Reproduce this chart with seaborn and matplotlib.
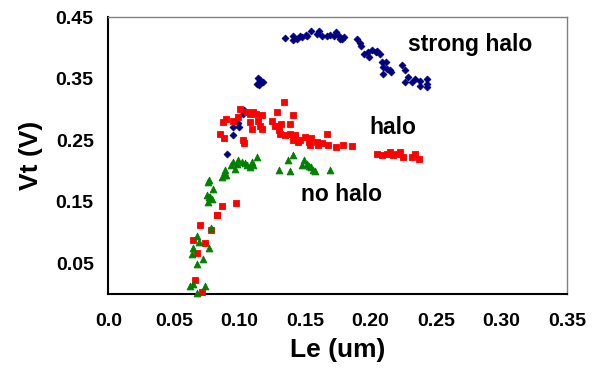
import matplotlib
matplotlib.use("Agg")
import matplotlib.pyplot as plt
import seaborn as sns
import pandas as pd

# ---- data ----
strong_x = [0.135, 0.141, 0.141, 0.144, 0.146, 0.148, 0.151, 0.152, 0.155, 0.159, 0.161, 0.163,
            0.167, 0.169, 0.172, 0.174, 0.176, 0.178, 0.180, 0.177, 0.190, 0.192, 0.193, 0.195,
            0.198, 0.199, 0.201, 0.204, 0.207, 0.209, 0.212, 0.210, 0.2125, 0.216, 0.2095,
            0.205, 0.215, 0.224, 0.2265, 0.229, 0.2265, 0.2316, 0.234, 0.238, 0.238, 0.243,
            0.243, 0.243, 0.114, 0.116, 0.118, 0.115, 0.1137, 0.1036, 0.1026, 0.0992, 0.095,
            0.100, 0.0954, 0.0908]
strong_y = [0.417, 0.419, 0.413, 0.415, 0.420, 0.418, 0.422, 0.419, 0.427, 0.423, 0.427, 0.420,
            0.419, 0.422, 0.419, 0.426, 0.420, 0.415, 0.418, 0.415, 0.415, 0.408, 0.403, 0.391,
            0.393, 0.385, 0.397, 0.393, 0.391, 0.377, 0.377, 0.369, 0.366, 0.361, 0.358,
            0.396, 0.364, 0.372, 0.364, 0.353, 0.345, 0.345, 0.350, 0.347, 0.339, 0.350,
            0.342, 0.337, 0.352, 0.348, 0.345, 0.340, 0.342, 0.300, 0.293, 0.278, 0.271,
            0.271, 0.258, 0.228]

halo_x = [0.1005, 0.134, 0.1285, 0.1056, 0.108, 0.1107, 0.113, 0.117, 0.0992, 0.0954, 0.090,
          0.0878, 0.108, 0.1145, 0.116, 0.117, 0.1095, 0.1247, 0.127, 0.130, 0.132, 0.1387,
          0.141, 0.131, 0.135, 0.1387, 0.1425, 0.146, 0.150, 0.153, 0.155, 0.159, 0.163,
          0.1667, 0.168, 0.174, 0.179, 0.186, 0.141, 0.145, 0.154, 0.160, 0.085, 0.088,
          0.1026, 0.1036, 0.0975, 0.0866, 0.0832,
          0.205, 0.209, 0.2125, 0.215, 0.2176, 0.220, 0.2227, 0.225, 0.2316, 0.234, 0.2374,
          0.0832, 0.070, 0.0784, 0.0644, 0.074, 0.0675, 0.066, 0.0715]
halo_y = [0.301, 0.312, 0.296, 0.296, 0.293, 0.296, 0.293, 0.291, 0.288, 0.282, 0.285,
          0.280, 0.280, 0.282, 0.274, 0.269, 0.269, 0.282, 0.274, 0.266, 0.277, 0.277,
          0.291, 0.261, 0.258, 0.261, 0.258, 0.250, 0.255, 0.247, 0.253, 0.247, 0.245,
          0.261, 0.242, 0.239, 0.242, 0.240, 0.250, 0.247, 0.242, 0.242, 0.261, 0.253,
          0.250, 0.245, 0.148, 0.143, 0.128,
          0.228, 0.226, 0.228, 0.231, 0.226, 0.228, 0.231, 0.223, 0.223, 0.228, 0.220,
          0.129, 0.112, 0.104, 0.088, 0.083, 0.066, 0.023, 0.003]

nohalo_x = [0.0763, 0.0769, 0.0797, 0.0751, 0.0776, 0.0763, 0.0784, 0.068, 0.069, 0.065, 0.077,
            0.0637, 0.072, 0.0677, 0.065, 0.062, 0.074, 0.0675,
            0.1137, 0.0992, 0.0954, 0.098, 0.102, 0.1044, 0.1056, 0.1095, 0.1107, 0.108,
            0.094, 0.0967, 0.089, 0.088, 0.090, 0.0866, 0.079, 0.077,
            0.141, 0.137, 0.149, 0.1476, 0.1514, 0.153, 0.155, 0.1565, 0.158, 0.130, 0.139,
            0.169]
nohalo_y = [0.182, 0.185, 0.170, 0.161, 0.158, 0.150, 0.107, 0.094, 0.084, 0.075, 0.074,
            0.065, 0.057, 0.049, 0.017, 0.013, 0.013, 0.002,
            0.223, 0.218, 0.215, 0.212, 0.215, 0.213, 0.209, 0.215, 0.209, 0.206,
            0.209, 0.204, 0.201, 0.193, 0.193, 0.190, 0.155, 0.158,
            0.226, 0.218, 0.218, 0.209, 0.212, 0.208, 0.206, 0.202, 0.200, 0.202, 0.200,
            0.202]

series_names = ["strong halo", "halo", "no halo"]
x_ticks = [0.0, 0.05, 0.10, 0.15, 0.20, 0.25, 0.30, 0.35]
x_tick_labels = ["0.0", "0.05", "0.10", "0.15", "0.20", "0.25", "0.30", "0.35"]
y_ticks = [0.0, 0.05, 0.10, 0.15, 0.20, 0.25, 0.30, 0.35, 0.40, 0.45]
y_tick_labels = ["", "0.05", "", "0.15", "", "0.25", "", "0.35", "", "0.45"]

df = pd.concat([
    pd.DataFrame({"Le": strong_x, "Vt": strong_y, "series": series_names[0]}),
    pd.DataFrame({"Le": halo_x, "Vt": halo_y, "series": series_names[1]}),
    pd.DataFrame({"Le": nohalo_x, "Vt": nohalo_y, "series": series_names[2]}),
], ignore_index=True)

sns.set_style("white")
plt.rcParams["font.family"] = ["Liberation Sans", "DejaVu Sans"]
plt.rcParams["text.color"] = "black"
plt.rcParams["axes.labelcolor"] = "black"
plt.rcParams["xtick.color"] = "black"
plt.rcParams["ytick.color"] = "black"

fig = plt.figure(figsize=(5.94, 3.69), dpi=100)
ax = fig.add_axes([0.1823, 0.2033, 0.7722, 0.7498])

palette = {"strong halo": "#000080", "halo": "#FF0000", "no halo": "#008000"}
markers = {"strong halo": "D", "halo": "s", "no halo": "^"}
sizes = {"strong halo": 12, "halo": 20, "no halo": 24}
for name in series_names:
    sub = df[df["series"] == name]
    sns.scatterplot(data=sub, x="Le", y="Vt", color=palette[name], marker=markers[name],
                    s=sizes[name], edgecolor=palette[name], linewidth=0.6, ax=ax,
                    legend=False, clip_on=False, zorder=3)

ax.set_xlim(0, 0.35)
ax.set_ylim(0, 0.45)
ax.set_xticks(x_ticks)
ax.set_xticklabels(x_tick_labels)
ax.set_yticks(y_ticks)
ax.set_yticklabels(y_tick_labels)
for lab in ax.get_xticklabels() + ax.get_yticklabels():
    lab.set_fontweight("bold")
    lab.set_fontsize(14)
ax.tick_params(axis="both", direction="inout", length=5, width=1, color="black")
ax.tick_params(axis="x", pad=11)
ax.tick_params(axis="y", pad=8)

for side in ["left", "bottom"]:
    ax.spines[side].set_color("black")
    ax.spines[side].set_linewidth(1.5)
for side in ["top", "right"]:
    ax.spines[side].set_visible(True)
    ax.spines[side].set_color("#808080")
    ax.spines[side].set_linewidth(1.0)

ax.set_xlabel("Le (um)", fontsize=19, fontweight="bold", labelpad=6)
ax.set_ylabel("Vt (V)", fontsize=19, fontweight="bold", labelpad=9)

ax.text(0.229, 0.406, "strong halo", fontsize=16.5, fontweight="bold", va="center", ha="left")
ax.text(0.199, 0.271, "halo", fontsize=16.5, fontweight="bold", va="center", ha="left")
ax.text(0.147, 0.161, "no halo", fontsize=16.5, fontweight="bold", va="center", ha="left")

fig.savefig("out.png", dpi=100)
